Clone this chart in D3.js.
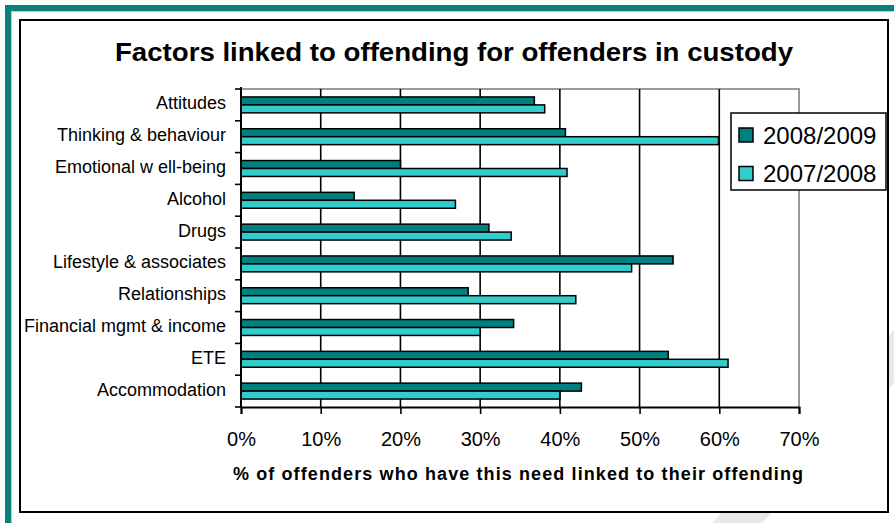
<!DOCTYPE html>
<html>
<head>
<meta charset="utf-8">
<script src="https://cdn.jsdelivr.net/npm/d3@7"></script>
<style>
  html, body { margin: 0; padding: 0; background: #ffffff; }
  svg { display: block; font-family: Arial, "Liberation Sans", sans-serif; }
</style>
</head>
<body>
<svg id="chart" width="894" height="523"></svg>
<script>
// Need categories, top to bottom
const categories = [
  "Attitudes",
  "Thinking & behaviour",
  "Emotional w ell-being",
  "Alcohol",
  "Drugs",
  "Lifestyle & associates",
  "Relationships",
  "Financial mgmt & income",
  "ETE",
  "Accommodation"
];

const seriesNames = ["2008/2009", "2007/2008"];

// Percent of offenders with the need linked to offending
const values2008_2009 = [36.8, 40.7, 20.0, 14.2, 31.1, 54.2, 28.5, 34.2, 53.6, 42.7];
const values2007_2008 = [38.1, 59.9, 40.9, 26.9, 33.9, 49.0, 42.0, 30.0, 61.1, 40.0];

const xTicks = [0, 10, 20, 30, 40, 50, 60, 70];

const seriesColors = { "2008/2009": "#008080", "2007/2008": "#33cccc" };

const rows = categories.map((c, i) => ({
  category: c,
  "2008/2009": values2008_2009[i],
  "2007/2008": values2007_2008[i]
}));

const svg = d3.select("#chart");

// teal outer frame
svg.append("path")
  .attr("d", "M8,523 L8,8 L894,8")
  .attr("fill", "none").attr("stroke", "#0a8078").attr("stroke-width", 6);
svg.append("path")
  .attr("d", "M11.5,523 L11.5,11.5 L894,11.5")
  .attr("fill", "none").attr("stroke", "#c8c8c8").attr("stroke-width", 1);

// faint diagonal watermark stripe (sits behind the inner card)
svg.append("path")
  .attr("d", "M712,523 L762,523 L894,383 L894,330 Z")
  .attr("fill", "#e8e8e8");

// inner chart card
svg.append("rect")
  .attr("x", 20).attr("y", 20).attr("width", 868).attr("height", 492)
  .attr("fill", "#ffffff").attr("stroke", "#000000").attr("stroke-width", 2);

// plot area
const plot = { left: 241, right: 799, top: 89, bottom: 407 };

const x = d3.scaleLinear().domain([0, 70]).range([plot.left, plot.right]);
const y0 = d3.scaleBand().domain(categories).range([plot.top, plot.bottom]).padding(0);
const y1 = d3.scaleBand().domain(seriesNames).range([0, y0.bandwidth()]).paddingInner(0).paddingOuter(1);

const g = svg.append("g");

// plot border (grey top and right)
g.append("path")
  .attr("d", `M${plot.left},${plot.top} L${plot.right},${plot.top} L${plot.right},${plot.bottom}`)
  .attr("fill", "none").attr("stroke", "#9a9a9a").attr("stroke-width", 2);

// vertical gridlines
g.selectAll("line.grid")
  .data(xTicks.filter(t => t > 0 && t < 70))
  .join("line")
  .attr("class", "grid")
  .attr("x1", d => x(d)).attr("x2", d => x(d))
  .attr("y1", plot.top).attr("y2", plot.bottom)
  .attr("stroke", "#000000").attr("stroke-width", 1.6);

// bars
const groups = g.selectAll("g.cat")
  .data(rows)
  .join("g")
  .attr("class", "cat")
  .attr("transform", d => `translate(0,${y0(d.category)})`);

groups.selectAll("rect")
  .data(d => seriesNames.map(s => ({ series: s, value: d[s] })))
  .join("rect")
  .attr("x", x(0))
  .attr("y", d => y1(d.series))
  .attr("width", d => x(d.value) - x(0))
  .attr("height", y1.bandwidth())
  .attr("fill", d => seriesColors[d.series])
  .attr("stroke", "#000000")
  .attr("stroke-width", 1.5);

// x axis
const xAxis = d3.axisBottom(x).tickValues(xTicks).tickFormat(d => d + "%").tickSize(7).tickPadding(8);
const xg = g.append("g").attr("transform", `translate(0,${plot.bottom})`).call(xAxis);
xg.select(".domain").attr("stroke", "#000000").attr("stroke-width", 2);
xg.selectAll(".tick line").attr("stroke", "#000000").attr("stroke-width", 1.6);
xg.selectAll(".tick text")
  .attr("font-size", 20).attr("font-family", "Arial, 'Liberation Sans', sans-serif")
  .attr("fill", "#000000").attr("dy", 23.5);

// y axis with tick marks on category boundaries
g.append("line")
  .attr("x1", plot.left).attr("x2", plot.left)
  .attr("y1", plot.top - 2).attr("y2", plot.bottom)
  .attr("stroke", "#000000").attr("stroke-width", 2);
const bounds = categories.map(c => y0(c)).concat([plot.bottom]);
g.selectAll("line.ytick")
  .data(bounds)
  .join("line")
  .attr("class", "ytick")
  .attr("x1", plot.left - 6).attr("x2", plot.left)
  .attr("y1", d => d).attr("y2", d => d)
  .attr("stroke", "#000000").attr("stroke-width", 1.6);

// category labels
g.selectAll("text.cat")
  .data(categories)
  .join("text")
  .attr("class", "cat")
  .attr("x", 226)
  .attr("y", d => y0(d) + y0.bandwidth() / 2 + 4.5)
  .attr("text-anchor", "end")
  .attr("font-size", 18)
  .attr("fill", "#000000")
  .text(d => d);

// title
svg.append("text")
  .attr("x", 454).attr("y", 61)
  .attr("text-anchor", "middle")
  .attr("font-size", 25).attr("font-weight", "bold")
  .attr("textLength", 678).attr("lengthAdjust", "spacingAndGlyphs")
  .text("Factors linked to offending for offenders in custody");

// x axis title
svg.append("text")
  .attr("x", 518).attr("y", 480)
  .attr("text-anchor", "middle")
  .attr("font-size", 18).attr("font-weight", "bold")
  .attr("textLength", 570).attr("lengthAdjust", "spacing")
  .text("% of offenders who have this need linked to their offending");

// legend
const legend = svg.append("g").attr("transform", "translate(731,113)");
legend.append("rect")
  .attr("width", 155).attr("height", 77)
  .attr("fill", "#ffffff").attr("stroke", "#000000").attr("stroke-width", 1.5);
const li = legend.selectAll("g.item")
  .data(seriesNames)
  .join("g")
  .attr("class", "item")
  .attr("transform", (d, i) => `translate(8,${15 + i * 38.5})`);
li.append("rect")
  .attr("width", 14).attr("height", 14)
  .attr("fill", d => seriesColors[d])
  .attr("stroke", "#000000").attr("stroke-width", 1.5);
li.append("text")
  .attr("x", 24).attr("y", 15.5)
  .attr("font-size", 24)
  .attr("fill", "#000000")
  .text(d => d);
</script>
</body>
</html>
